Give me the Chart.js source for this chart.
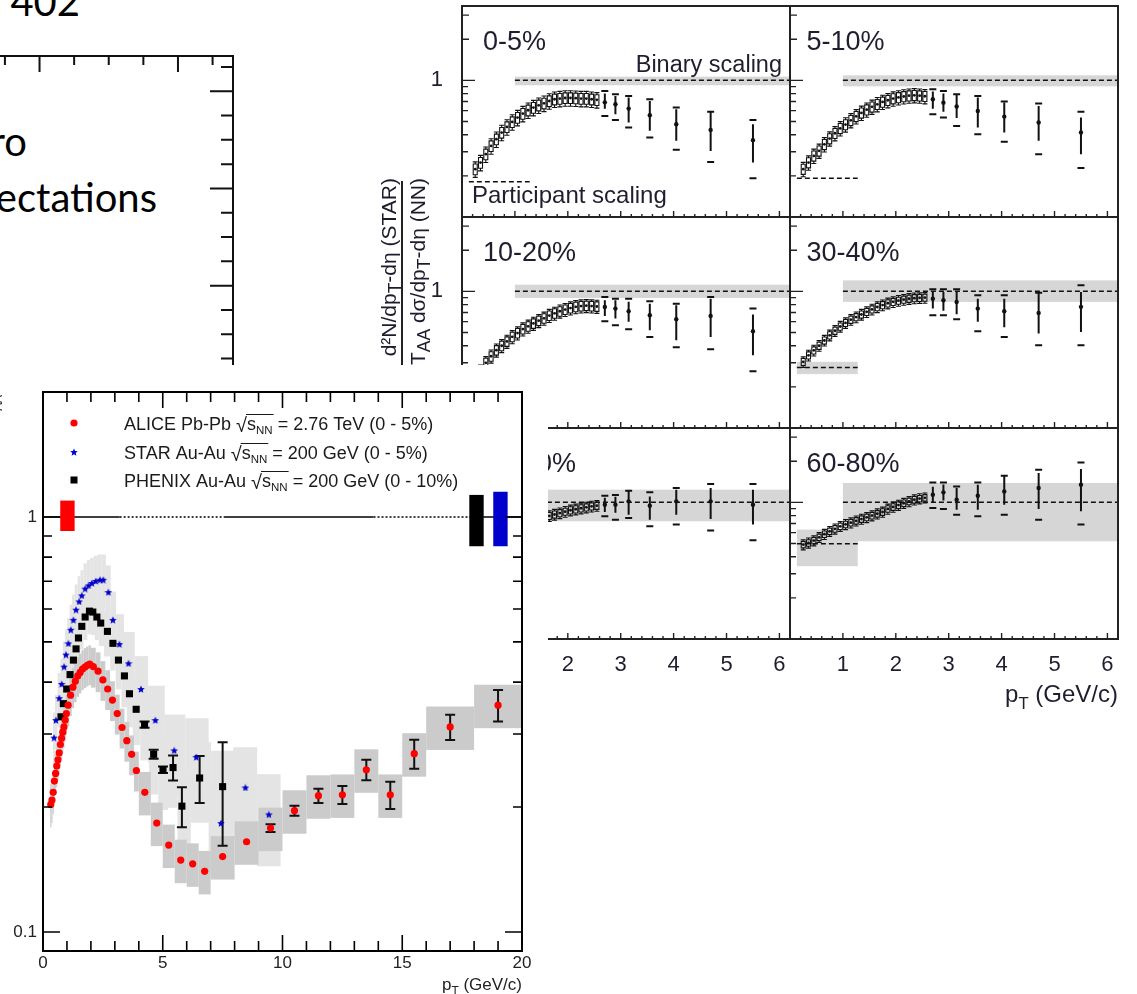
<!DOCTYPE html>
<html>
<head>
<meta charset="utf-8">
<title>Hadron suppression: RHIC vs LHC</title>
<script src="https://cdn.jsdelivr.net/npm/chart.js@4.4.1/dist/chart.umd.min.js"></script>
<style>
  html, body { margin: 0; padding: 0; }
  body { width: 1137px; height: 994px; overflow: hidden; position: relative; background: #fff; }
  canvas { position: absolute; }
  .slide { position: absolute; font-family: Lato, 'Noto Sans', sans-serif; font-size: 40px; line-height: 40px;
           width: 280px; text-align: right; white-space: nowrap; color: #000; }
  .ytitle { position: absolute; font-family: 'Liberation Sans', Arial, sans-serif; font-size: 21px; line-height: 24px;
            width: 300px; text-align: right; white-space: nowrap; color: #1c1c2c;
            transform: rotate(-90deg); transform-origin: 0 0; }
  .ybar { position: absolute; width: 1.5px; background: #222; }
</style>
</head>
<body>

<div class="slide" style="left:-200px; top:-19px;">402</div>
<div class="slide" style="left:-253px; top:121px;">ro</div>
<div class="slide" style="left:-123px; top:177px;">ectations</div>

<canvas id="bgFrame"></canvas>

<div class="ytitle" style="left:377px; top:478px; z-index:2;">d²N/dp<sub>T</sub>-dη (STAR)</div>
<div class="ybar" style="left:401px; top:181px; height:220px; z-index:2;"></div>
<div class="ytitle" style="left:406px; top:478px; z-index:2;">T<sub>AA</sub> dσ/dp<sub>T</sub>-dη (NN)</div>

<canvas id="star0" style="z-index:1"></canvas>
<canvas id="star1" style="z-index:1"></canvas>
<canvas id="star2" style="z-index:1"></canvas>
<canvas id="star3" style="z-index:1"></canvas>
<canvas id="star4" style="z-index:1"></canvas>
<canvas id="star5" style="z-index:1"></canvas>

<canvas id="alice" style="z-index:3"></canvas>

<script>
// ---------- central R_AA: ALICE Pb-Pb vs RHIC Au-Au ----------
const alicePt = [0.325, 0.375, 0.425, 0.475, 0.525, 0.575, 0.625, 0.675, 0.725, 0.775, 0.825, 0.875, 0.925, 0.975,
  1.05, 1.15, 1.25, 1.35, 1.45, 1.55, 1.65, 1.75, 1.85, 1.95,
  2.1, 2.3, 2.5, 2.7, 2.9, 3.1, 3.3, 3.5, 3.7, 3.9,
  4.25, 4.75, 5.25, 5.75, 6.25, 6.75,
  7.5, 8.5, 9.5, 10.5, 11.5, 12.5, 13.5, 14.5, 15.5, 17, 19];
const aliceEdges = [0.3, 0.35, 0.4, 0.45, 0.5, 0.55, 0.6, 0.65, 0.7, 0.75, 0.8, 0.85, 0.9, 0.95, 1.0,
  1.1, 1.2, 1.3, 1.4, 1.5, 1.6, 1.7, 1.8, 1.9, 2.0,
  2.2, 2.4, 2.6, 2.8, 3.0, 3.2, 3.4, 3.6, 3.8, 4.0,
  4.5, 5.0, 5.5, 6.0, 6.5, 7.0,
  8, 9, 10, 11, 12, 13, 14, 15, 16, 18, 20];
const aliceRaa = [0.203, 0.208, 0.217, 0.231, 0.241, 0.251, 0.260, 0.270, 0.283, 0.293, 0.303, 0.312, 0.324, 0.336,
  0.352, 0.372, 0.389, 0.402, 0.414, 0.422, 0.430, 0.435, 0.439, 0.442,
  0.436, 0.425, 0.405, 0.385, 0.362, 0.336, 0.311, 0.289, 0.268, 0.245,
  0.217, 0.183, 0.162, 0.149, 0.146, 0.140,
  0.152, 0.165, 0.178, 0.196, 0.213, 0.214, 0.246, 0.214, 0.269, 0.312, 0.352];
// relative statistical errors
const aliceStat = [0, 0, 0, 0, 0, 0, 0, 0, 0, 0, 0, 0, 0, 0,
  0, 0, 0, 0, 0, 0, 0, 0, 0, 0,
  0, 0, 0, 0, 0, 0, 0, 0, 0, 0,
  0, 0, 0, 0, 0, 0,
  0, 0, 0.022, 0.028, 0.04, 0.05, 0.057, 0.075, 0.08, 0.07, 0.087];
// relative systematic errors
const aliceSys = [0.12, 0.12, 0.115, 0.11, 0.11, 0.11, 0.11, 0.11, 0.11, 0.11, 0.11, 0.11, 0.11, 0.11,
  0.11, 0.11, 0.11, 0.11, 0.11, 0.11, 0.11, 0.11, 0.11, 0.11,
  0.11, 0.11, 0.11, 0.11, 0.11, 0.11, 0.11, 0.11, 0.11, 0.11,
  0.12, 0.12, 0.12, 0.12, 0.12, 0.12,
  0.12, 0.12, 0.12, 0.12, 0.12, 0.12, 0.12, 0.12, 0.12, 0.12, 0.12];

const starPt = [0.46, 0.54, 0.68, 0.78, 0.88, 0.96, 1.06, 1.16, 1.27, 1.38, 1.51, 1.62, 1.76, 1.90, 2.04, 2.20, 2.38, 2.52,
  2.73, 2.92, 3.19, 3.57, 4.09, 4.69, 5.48, 6.40, 7.43, 8.45, 9.43];
const starRaa = [0.294, 0.324, 0.366, 0.396, 0.436, 0.466, 0.496, 0.535, 0.565, 0.598, 0.626, 0.647, 0.672, 0.684, 0.693, 0.701, 0.706, 0.706,
  0.659, 0.565, 0.494, 0.444, 0.385, 0.324, 0.274, 0.264, 0.183, 0.223, 0.192];
const starSys = [0.15, 0.15, 0.15, 0.15, 0.15, 0.15, 0.15, 0.15, 0.15, 0.15, 0.15, 0.15, 0.15, 0.15, 0.15, 0.15, 0.15, 0.15,
  0.16, 0.17, 0.18, 0.19, 0.2, 0.21, 0.22, 0.24, 0.25, 0.25, 0.25];

const phenixPt = [0.75, 0.85, 0.99, 1.13, 1.27, 1.38, 1.48, 1.62, 1.76, 1.94, 2.08, 2.25, 2.41,
  2.69, 2.92, 3.15, 3.40, 3.61, 3.89, 4.24, 4.62, 5.01, 5.43, 5.80, 6.54, 7.50];
const phenixRaa = [0.33, 0.355, 0.385, 0.417, 0.452, 0.481, 0.511, 0.545, 0.574, 0.593, 0.590, 0.574, 0.555,
  0.530, 0.496, 0.452, 0.414, 0.375, 0.344, 0.316, 0.268, 0.246, 0.249, 0.201, 0.235, 0.224];
const phenixStat = [0, 0, 0, 0, 0, 0, 0, 0, 0, 0, 0, 0, 0,
  0, 0, 0, 0, 0, 0, 0.017, 0.025, 0.018, 0.069, 0.11, 0.13, 0.28];
const phenixSys = [0.12, 0.12, 0.12, 0.12, 0.12, 0.12, 0.12, 0.12, 0.12, 0.12, 0.12, 0.12, 0.12,
  0.13, 0.14, 0.15, 0.16, 0.17, 0.18, 0.18, 0.2, 0.2, 0.2, 0.22, 0.22, 0.22];

// normalisation uncertainties drawn at R_AA = 1
const normPt = [[0.72, 1.32], [17.8, 18.4], [18.8, 19.4]];
const normRange = [[0.925, 1.095], [0.85, 1.13], [0.85, 1.15]];
const unityBreaks = [0, 3.2, 7.6, 13.8, 17.9, 20];

const legendRows = [
  ['ALICE Pb-Pb', '2.76 TeV (0 - 5%)'],
  ['STAR Au-Au', '200 GeV (0 - 5%)'],
  ['PHENIX Au-Au', '200 GeV (0 - 10%)']
];

// ---------- STAR charged hadrons, Au-Au 200 GeV, by centrality ----------
const centralities = ['0-5%', '5-10%', '10-20%', '30-40%', '40-60%', '60-80%'];
const starLowPt = [0.25, 0.35, 0.45, 0.55, 0.65, 0.75, 0.85, 0.95, 1.05, 1.15, 1.25, 1.35,
  1.45, 1.55, 1.65, 1.75, 1.85, 1.95, 2.05, 2.15, 2.25, 2.35, 2.45, 2.55];
const starHighPt = [2.7, 2.9, 3.15, 3.55, 4.05, 4.7, 5.5];

const low0_5 = [0.224, 0.25, 0.288, 0.331, 0.371, 0.415, 0.456, 0.496, 0.534, 0.571, 0.604, 0.632,
  0.657, 0.679, 0.706, 0.727, 0.735, 0.743, 0.743, 0.74, 0.735, 0.735, 0.727, 0.72];
const low5_10 = [0.224, 0.25, 0.28, 0.305, 0.34, 0.375, 0.41, 0.445, 0.475, 0.51, 0.545, 0.578,
  0.61, 0.64, 0.668, 0.695, 0.715, 0.735, 0.75, 0.762, 0.772, 0.777, 0.772, 0.765];
const low10_20 = [0.235, 0.26, 0.30, 0.335, 0.371, 0.40, 0.43, 0.465, 0.495, 0.53, 0.555, 0.582,
  0.61, 0.635, 0.665, 0.69, 0.715, 0.735, 0.755, 0.77, 0.78, 0.785, 0.78, 0.775];
const low30_40 = [0.305, 0.34, 0.37, 0.40, 0.437, 0.477, 0.515, 0.553, 0.587, 0.62, 0.648, 0.677,
  0.708, 0.738, 0.768, 0.793, 0.818, 0.838, 0.855, 0.87, 0.883, 0.892, 0.897, 0.90];
const low40_60 = [0.38, 0.41, 0.45, 0.49, 0.52, 0.555, 0.59, 0.62, 0.65, 0.68, 0.705, 0.73,
  0.755, 0.775, 0.795, 0.815, 0.835, 0.855, 0.875, 0.89, 0.905, 0.92, 0.935, 0.945];
const low60_80 = [0.491, 0.505, 0.525, 0.555, 0.585, 0.614, 0.64, 0.668, 0.69, 0.71, 0.733, 0.755,
  0.777, 0.80, 0.825, 0.85, 0.895, 0.925, 0.955, 0.985, 1.015, 1.045, 1.065, 1.08];
// relative systematic (box) and statistical (bar) errors of the low-pT points
const lowSys = [0.09, 0.085, 0.08, 0.06, 0.06, 0.055];
const lowStat = [0.13, 0.12, 0.11, 0.09, 0.09, 0.085];

const hi0_5 = [0.69, 0.668, 0.621, 0.555, 0.477, 0.434, 0.365];
const stat0_5 = [[0.62, 0.80], [0.565, 0.768], [0.491, 0.748], [0.427, 0.706], [0.361, 0.614], [0.304, 0.581], [0.251, 0.477]];
const sys0_5 = [[0.549, 0.835], [0.513, 0.79], [0.451, 0.768], [0.381, 0.727], [0.31, 0.632], [0.253, 0.59], [0.192, 0.513]];

const hi5_10 = [0.727, 0.687, 0.643, 0.597, 0.543, 0.491, 0.415];
const stat5_10 = [[0.62, 0.83], [0.59, 0.80], [0.53, 0.78], [0.451, 0.748], [0.415, 0.687], [0.361, 0.65], [0.288, 0.534]];
const sys5_10 = [[0.565, 0.86], [0.534, 0.835], [0.464, 0.79], [0.403, 0.768], [0.355, 0.699], [0.288, 0.676], [0.228, 0.59]];

const hi10_20 = [0.769, 0.748, 0.715, 0.668, 0.625, 0.661, 0.511];
const stat10_20 = [[0.66, 0.86], [0.632, 0.86], [0.60, 0.84], [0.519, 0.813], [0.439, 0.79], [0.464, 0.884], [0.341, 0.676]];
const sys10_20 = [[0.604, 0.91], [0.565, 0.884], [0.528, 0.884], [0.464, 0.845], [0.39, 0.813], [0.377, 0.91], [0.26, 0.748]];

const hi30_40 = [0.884, 0.86, 0.836, 0.748, 0.715, 0.695, 0.77];
const stat30_40 = [[0.75, 0.99], [0.72, 0.99], [0.68, 0.99], [0.598, 0.884], [0.546, 0.884], [0.491, 0.962], [0.505, 0.99]];
const sys30_40 = [[0.668, 1.034], [0.668, 1.034], [0.625, 1.034], [0.511, 0.935], [0.464, 0.935], [0.404, 0.978], [0.404, 1.106]];

const hi40_60 = [0.962, 0.962, 1.017, 0.946, 1.017, 1.017, 0.962];
const stat40_60 = [[0.85, 1.08], [0.84, 1.10], [0.813, 1.203], [0.747, 1.105], [0.813, 1.238], [0.756, 1.274], [0.688, 1.238]];
const sys40_60 = [[0.79, 1.119], [0.747, 1.13], [0.769, 1.217], [0.668, 1.183], [0.688, 1.274], [0.622, 1.362], [0.528, 1.362]];

const hi60_80 = [1.138, 1.183, 1.046, 1.119, 1.203, 1.274, 1.347];
const stat60_80 = [[1.0, 1.3], [1.03, 1.35], [0.884, 1.274], [0.884, 1.347], [0.962, 1.547], [0.895, 1.639], [0.86, 1.753]];
const sys60_80 = [[0.91, 1.40], [0.895, 1.40], [0.813, 1.308], [0.79, 1.40], [0.813, 1.566], [0.747, 1.732], [0.688, 1.958]];

// scaling expectations (binary collisions at 1, participants below)
const binaryRange = [1.0, 6.2];
const binaryBand = [[0.92, 1.064], [0.904, 1.088], [0.895, 1.119], [0.837, 1.203], [0.727, 1.238], [0.519, 1.385]];
const partRange = [0.13, 1.28];
const partLevel = [0.181, 0.192, 0.21, 0.277, 0.36, 0.497];
const partBand = [null, null, [0.19, 0.232], [0.248, 0.305], [0.30, 0.43], [0.341, 0.632]];

// ---------- helpers ----------
const FONT = "'Liberation Sans', Arial, Helvetica, sans-serif";
const font = px => `${px}px ${FONT}`;

function range(a, b, step) {
  const out = [];
  for (let v = a; v <= b + 1e-9; v += step) out.push(+v.toFixed(4));
  return out;
}

function place(id, rect, pad) {
  const c = document.getElementById(id);
  c.width = rect.w + pad.l + pad.r;
  c.height = rect.h + pad.t + pad.b;
  c.style.left = (rect.x - pad.l) + 'px';
  c.style.top = (rect.y - pad.t) + 'px';
  return c;
}

function fillBox(ctx, x, y, x0, x1, y0, y1) {
  const l = x.getPixelForValue(x0), r = x.getPixelForValue(x1);
  const t = y.getPixelForValue(y1), b = y.getPixelForValue(y0);
  ctx.fillRect(l, t, r - l, b - t);
}

// half distance to the neighbouring points, used as box half-widths
function halfWidths(pts) {
  return pts.map((p, i) => {
    const left = i > 0 ? (p - pts[i - 1]) / 2 : (pts[1] - p) / 2;
    const right = i < pts.length - 1 ? (pts[i + 1] - p) / 2 : left;
    return [left, right];
  });
}

function errorBars(ctx, x, y, pts, vals, errs, cap) {
  ctx.beginPath();
  pts.forEach((p, i) => {
    if (!errs[i]) return;
    const px = x.getPixelForValue(p);
    const t = y.getPixelForValue(vals[i] * (1 + errs[i]));
    const b = y.getPixelForValue(vals[i] * (1 - errs[i]));
    ctx.moveTo(px, t); ctx.lineTo(px, b);
    ctx.moveTo(px - cap, t); ctx.lineTo(px + cap, t);
    ctx.moveTo(px - cap, b); ctx.lineTo(px + cap, b);
  });
  ctx.stroke();
}

// text with subscripts: parts = [[text, isSub], ...]
function subText(ctx, parts, x, y, size, align) {
  const widths = parts.map(([t, sub]) => { ctx.font = font(sub ? size * 0.7 : size); return ctx.measureText(t).width; });
  const total = widths.reduce((s, w) => s + w, 0);
  let cx = align === 'right' ? x - total : x;
  ctx.textAlign = 'left';
  parts.forEach(([t, sub], i) => {
    ctx.font = font(sub ? size * 0.7 : size);
    ctx.fillText(t, cx, y + (sub ? size * 0.28 : 0));
    cx += widths[i];
  });
}

function starImage(size, color) {
  const c = document.createElement('canvas');
  c.width = c.height = size;
  const g = c.getContext('2d');
  const R = size / 2, r = R * 0.45;
  g.beginPath();
  for (let i = 0; i < 10; i++) {
    const rad = i % 2 ? r : R;
    const ang = -Math.PI / 2 + i * Math.PI / 5;
    g.lineTo(R + rad * Math.cos(ang), R + 0.5 + rad * Math.sin(ang));
  }
  g.closePath();
  g.fillStyle = color;
  g.fill();
  return c;
}

// frame box with inward ticks and optional tick labels
const framePlugin = {
  id: 'frame',
  afterDraw(chart, args, o) {
    const { ctx, chartArea: a, scales: { x, y } } = chart;
    ctx.save();
    ctx.strokeStyle = o.color;
    ctx.lineWidth = o.lineWidth;
    ctx.strokeRect(a.left, a.top, a.right - a.left, a.bottom - a.top);
    ctx.lineWidth = o.tickWidth;
    ctx.beginPath();
    for (const [v, len] of o.xTicks) {
      const px = x.getPixelForValue(v);
      if (o.xSides.includes('bottom')) { ctx.moveTo(px, a.bottom); ctx.lineTo(px, a.bottom - len); }
      if (o.xSides.includes('top')) { ctx.moveTo(px, a.top); ctx.lineTo(px, a.top + len); }
    }
    for (const [v, len] of o.yTicks) {
      const py = y.getPixelForValue(v);
      if (o.ySides.includes('left')) { ctx.moveTo(a.left, py); ctx.lineTo(a.left + len, py); }
      if (o.ySides.includes('right')) { ctx.moveTo(a.right, py); ctx.lineTo(a.right - len, py); }
    }
    ctx.stroke();
    ctx.fillStyle = o.labelColor || '#222';
    ctx.font = o.font || font(16);
    ctx.textBaseline = 'middle';
    ctx.textAlign = 'center';
    for (const [v, text] of (o.xLabels || [])) ctx.fillText(text, x.getPixelForValue(v), a.bottom + o.xLabelGap);
    ctx.textAlign = 'right';
    for (const [v, text] of (o.yLabels || [])) ctx.fillText(text, a.left - o.yLabelGap, y.getPixelForValue(v));
    ctx.restore();
  }
};

const baseOptions = (pad, xs, ys) => ({
  responsive: false,
  animation: false,
  events: [],
  layout: { padding: { left: pad.l, right: pad.r, top: pad.t, bottom: pad.b } },
  scales: { x: Object.assign({ display: false }, xs), y: Object.assign({ display: false }, ys) },
  plugins: { legend: { display: false }, tooltip: { enabled: false } }
});

// ---------- background axes frame (behind the slide text) ----------
{
  const pad = { l: 20, t: 16, r: 7, b: 10 };
  place('bgFrame', { x: -20, y: 56, w: 253, h: 344 }, pad);
  const opts = baseOptions(pad, { type: 'linear', min: -0.72, max: 6.59 }, { type: 'linear', min: -0.704, max: 13.45 });
  opts.plugins.frame = {
    color: '#111', lineWidth: 2, tickWidth: 2,
    xTicks: range(0, 6, 1).map(v => [v, [1, 5].includes(v) ? 16 : 9]), xSides: ['top'],
    yTicks: range(1, 13, 1).map(v => [v, [4, 8, 12].includes(v) ? 23 : 12]), ySides: ['right']
  };
  new Chart(document.getElementById('bgFrame'), { type: 'scatter', data: { datasets: [] }, options: opts, plugins: [framePlugin] });
}

// ---------- STAR centrality panels ----------
const starPanel = {
  id: 'starPanel',
  beforeDatasetsDraw(chart, args, o) {
    const { ctx, chartArea: a, scales: { x, y } } = chart;
    ctx.save();
    ctx.beginPath(); ctx.rect(a.left, a.top, a.right - a.left, a.bottom - a.top); ctx.clip();
    ctx.fillStyle = '#d6d6d6';
    fillBox(ctx, x, y, binaryRange[0], binaryRange[1], o.band[0], o.band[1]);
    if (o.partBand) fillBox(ctx, x, y, partRange[0], partRange[1], o.partBand[0], o.partBand[1]);
    ctx.restore();
  },
  afterDatasetsDraw(chart, args, o) {
    const { ctx, chartArea: a, scales: { x, y } } = chart;
    ctx.save();
    ctx.beginPath(); ctx.rect(a.left, a.top, a.right - a.left, a.bottom - a.top); ctx.clip();
    ctx.strokeStyle = '#111';
    // low pT: open systematic boxes and capped statistical bars
    ctx.lineWidth = 1.1;
    ctx.beginPath();
    starLowPt.forEach((p, i) => {
      const v = o.low[i];
      const px = x.getPixelForValue(p);
      const t = y.getPixelForValue(v * (1 + o.lowSys)), b = y.getPixelForValue(v * (1 - o.lowSys));
      ctx.rect(px - 2, t, 4, b - t);
      const st = y.getPixelForValue(v * (1 + o.lowStat)), sb = y.getPixelForValue(v * (1 - o.lowStat));
      ctx.moveTo(px, st); ctx.lineTo(px, t);
      ctx.moveTo(px, b); ctx.lineTo(px, sb);
      ctx.moveTo(px - 2.5, st); ctx.lineTo(px + 2.5, st);
      ctx.moveTo(px - 2.5, sb); ctx.lineTo(px + 2.5, sb);
    });
    ctx.stroke();
    // high pT: statistical bar plus systematic caps
    ctx.lineWidth = 2;
    ctx.beginPath();
    starHighPt.forEach((p, i) => {
      const px = x.getPixelForValue(p);
      ctx.moveTo(px, y.getPixelForValue(o.stat[i][1])); ctx.lineTo(px, y.getPixelForValue(o.stat[i][0]));
      for (const v of o.sys[i]) {
        const py = y.getPixelForValue(v);
        ctx.moveTo(px - 3.5, py); ctx.lineTo(px + 3.5, py);
      }
    });
    ctx.stroke();
    ctx.restore();
  },
  afterDraw(chart, args, o) {
    const { ctx, chartArea: a } = chart;
    ctx.save();
    ctx.fillStyle = '#1e1e2e';
    ctx.textBaseline = 'alphabetic';
    ctx.textAlign = 'left';
    ctx.font = font(27);
    ctx.fillText(o.label, a.left + o.labelInset, a.top + 44);
    if (o.scalingText) {
      ctx.font = font(23.5);
      ctx.textAlign = 'right';
      ctx.fillText('Binary scaling', a.right - 8, a.top + 66);
      ctx.textAlign = 'left';
      ctx.font = font(24);
      ctx.fillText('Participant scaling', a.left + 10, a.top + 197);
    }
    if (o.axisTitle) {
      subText(ctx, [['p', false], ['T', true], [' (GeV/c)', false]], a.right, a.bottom + 63, 24, 'right');
    }
    ctx.restore();
  }
};

const lowSets = [low0_5, low5_10, low10_20, low30_40, low40_60, low60_80];
const hiSets = [hi0_5, hi5_10, hi10_20, hi30_40, hi40_60, hi60_80];
const statSets = [stat0_5, stat5_10, stat10_20, stat30_40, stat40_60, stat60_80];
const sysSets = [sys0_5, sys5_10, sys10_20, sys30_40, sys40_60, sys60_80];

centralities.forEach((label, i) => {
  const col = i % 2, row = Math.floor(i / 2);
  const rect = { x: 462 + 328 * col, y: 6 + 211 * row, w: 328, h: 211 };
  const pad = { l: col === 0 ? 90 : 4, r: col === 0 ? 4 : 18, t: row === 0 ? 6 : 4, b: row === 2 ? 92 : 4 };
  const canvas = place('star' + i, rect, pad);
  const opts = baseOptions(pad, { type: 'linear', min: 0, max: 6.2 }, { type: 'logarithmic', min: 0.1, max: 3.5 });
  opts.plugins.frame = {
    color: '#222', lineWidth: 2, tickWidth: 1.4,
    xTicks: range(0, 6.2, 0.2).map(v => [v, Number.isInteger(v) ? 6 : 3]), xSides: ['bottom'],
    yTicks: [[1, 13], [0.2, 6], [0.3, 6], [0.4, 6], [0.5, 6], [0.6, 6], [0.7, 6], [0.8, 6], [0.9, 6], [2, 7], [3, 7]],
    ySides: ['left'],
    font: font(22), labelColor: '#1e1e2e',
    xLabels: row === 2 ? range(1, 6, 1).map(v => [v, String(v)]) : [], xLabelGap: 26,
    yLabels: col === 0 ? [[1, '1']] : [], yLabelGap: 19
  };
  opts.plugins.starPanel = {
    label, labelInset: col === 0 ? 21 : 16.5,
    low: lowSets[i], lowSys: lowSys[i], lowStat: lowStat[i], stat: statSets[i], sys: sysSets[i],
    band: binaryBand[i], partBand: partBand[i],
    scalingText: i === 0, axisTitle: i === 5
  };
  const line = (x0, x1, v) => ({
    data: [{ x: x0, y: v }, { x: x1, y: v }], showLine: true, borderColor: '#111', borderWidth: 1.5,
    borderDash: [5, 3], pointRadius: 0, order: 3
  });
  new Chart(canvas, {
    type: 'scatter',
    data: {
      datasets: [
        { data: starLowPt.map((p, k) => ({ x: p, y: lowSets[i][k] })), pointRadius: 1.4, backgroundColor: '#111', borderWidth: 0, order: 0 },
        { data: starHighPt.map((p, k) => ({ x: p, y: hiSets[i][k] })), pointRadius: 2.2, backgroundColor: '#111', borderWidth: 0, order: 0 },
        line(binaryRange[0], binaryRange[1], 1),
        line(partRange[0], partRange[1], partLevel[i])
      ]
    },
    options: opts,
    plugins: [starPanel, framePlugin]
  });
});

// ---------- foreground ALICE comparison ----------
const aliceDecor = {
  id: 'aliceDecor',
  beforeDraw(chart) {
    const { ctx, width, height } = chart;
    ctx.save();
    ctx.fillStyle = '#fff';
    ctx.fillRect(0, 0, width, height);
    ctx.restore();
  },
  beforeDatasetsDraw(chart) {
    const { ctx, chartArea: a, scales: { x, y } } = chart;
    ctx.save();
    ctx.beginPath(); ctx.rect(a.left, a.top, a.right - a.left, a.bottom - a.top); ctx.clip();
    ctx.fillStyle = '#e4e4e4';
    const sw = halfWidths(starPt), pw = halfWidths(phenixPt);
    starPt.forEach((p, i) => fillBox(ctx, x, y, p - sw[i][0], p + sw[i][1], starRaa[i] * (1 - starSys[i]), starRaa[i] * (1 + starSys[i])));
    phenixPt.forEach((p, i) => fillBox(ctx, x, y, p - pw[i][0], p + pw[i][1], phenixRaa[i] * (1 - phenixSys[i]), phenixRaa[i] * (1 + phenixSys[i])));
    ctx.fillStyle = '#cbcbcb';
    alicePt.forEach((p, i) => fillBox(ctx, x, y, aliceEdges[i], aliceEdges[i + 1], aliceRaa[i] * (1 - aliceSys[i]), aliceRaa[i] * (1 + aliceSys[i])));
    ctx.strokeStyle = '#111';
    ctx.lineWidth = 2;
    errorBars(ctx, x, y, phenixPt, phenixRaa, phenixStat, 5);
    errorBars(ctx, x, y, alicePt, aliceRaa, aliceStat, 5);
    ctx.restore();
  },
  afterDatasetsDraw(chart) {
    const { ctx, scales: { x, y } } = chart;
    const colors = ['#ff0000', '#000000', '#0000cc'];
    ctx.save();
    normPt.forEach((r, i) => {
      ctx.fillStyle = colors[i];
      fillBox(ctx, x, y, r[0], r[1], normRange[i][0], normRange[i][1]);
    });
    ctx.restore();
  },
  afterDraw(chart) {
    const { ctx, chartArea: a } = chart;
    ctx.save();
    // legend
    const mx = a.left + 31, rows = [31, 60, 88];
    ctx.fillStyle = '#ff0000';
    ctx.beginPath(); ctx.arc(mx, a.top + rows[0], 3.6, 0, Math.PI * 2); ctx.fill();
    ctx.drawImage(starMarker, mx - starMarker.width / 2, a.top + rows[1] - starMarker.height / 2);
    ctx.fillStyle = '#000';
    ctx.fillRect(mx - 3.5, a.top + rows[2] - 3.5, 7, 7);
    ctx.fillStyle = '#1a1a1a';
    ctx.strokeStyle = '#1a1a1a';
    ctx.textBaseline = 'alphabetic';
    ctx.textAlign = 'left';
    legendRows.forEach(([pre, post], i) => {
      const by = a.top + rows[i] + 7;
      ctx.font = font(18);
      let cx = a.left + 81;
      ctx.fillText(pre + ' ', cx, by);
      cx += ctx.measureText(pre + ' ').width;
      ctx.font = font(20);
      ctx.fillText('\u221A', cx, by + 2);
      cx += ctx.measureText('\u221A').width;
      const barStart = cx - 1;
      ctx.font = font(18);
      ctx.fillText('s', cx, by);
      cx += ctx.measureText('s').width;
      ctx.font = font(11.5);
      ctx.fillText('NN', cx, by + 4);
      cx += ctx.measureText('NN').width;
      ctx.lineWidth = 1;
      ctx.beginPath(); ctx.moveTo(barStart, by - 15.5); ctx.lineTo(cx + 1, by - 15.5); ctx.stroke();
      ctx.font = font(18);
      ctx.fillText(' = ' + post, cx, by);
    });
    // axis titles
    ctx.fillStyle = '#222';
    subText(ctx, [['p', false], ['T', true], [' (GeV/c)', false]], a.right, a.bottom + 39, 17, 'right');
    ctx.translate(-3, a.top + 3);
    ctx.rotate(-Math.PI / 2);
    subText(ctx, [['R', false], ['AA', true]], 0, 0, 17, 'right');
    ctx.restore();
  }
};

const starMarker = starImage(8, '#0000cc');
{
  const pad = { l: 43, t: 27, r: 26, b: 43 };
  const canvas = place('alice', { x: 43, y: 392, w: 479, h: 559 }, pad);
  const opts = baseOptions(pad, { type: 'linear', min: 0, max: 20 }, { type: 'logarithmic', min: 0.09, max: 2 });
  opts.plugins.frame = {
    color: '#000', lineWidth: 2, tickWidth: 1.6,
    xTicks: range(0, 20, 1).map(v => [v, v % 5 === 0 ? 16 : 10]), xSides: ['bottom', 'top'],
    yTicks: [[0.1, 17], [1, 17], [0.2, 9], [0.3, 9], [0.4, 9], [0.5, 9], [0.6, 9], [0.7, 9], [0.8, 9], [0.9, 9]],
    ySides: ['left', 'right'],
    font: font(17), labelColor: '#222',
    xLabels: [0, 5, 10, 15, 20].map(v => [v, String(v)]), xLabelGap: 12,
    yLabels: [[1, '1'], [0.1, '0.1']], yLabelGap: 6
  };
  new Chart(canvas, {
    type: 'scatter',
    data: {
      datasets: [
        { label: 'ALICE', data: alicePt.map((p, i) => ({ x: p, y: aliceRaa[i] })), pointRadius: 3.6,
          backgroundColor: '#ff0000', borderWidth: 0, order: 0 },
        { label: 'PHENIX', data: phenixPt.map((p, i) => ({ x: p, y: phenixRaa[i] })), pointStyle: 'rect', pointRadius: 5,
          backgroundColor: '#000', borderWidth: 0, order: 1 },
        { label: 'STAR', data: starPt.map((p, i) => ({ x: p, y: starRaa[i] })), pointStyle: starMarker,
          backgroundColor: '#0000cc', order: 2 },
        { label: 'unity', data: unityBreaks.map(p => ({ x: p, y: 1 })), showLine: true, pointRadius: 0,
          borderColor: '#000', borderWidth: 1.5, order: 3,
          segment: { borderDash: c => (c.p0DataIndex % 2 ? [2, 2] : undefined) } }
      ]
    },
    options: opts,
    plugins: [aliceDecor, framePlugin]
  });
}
</script>
</body>
</html>
